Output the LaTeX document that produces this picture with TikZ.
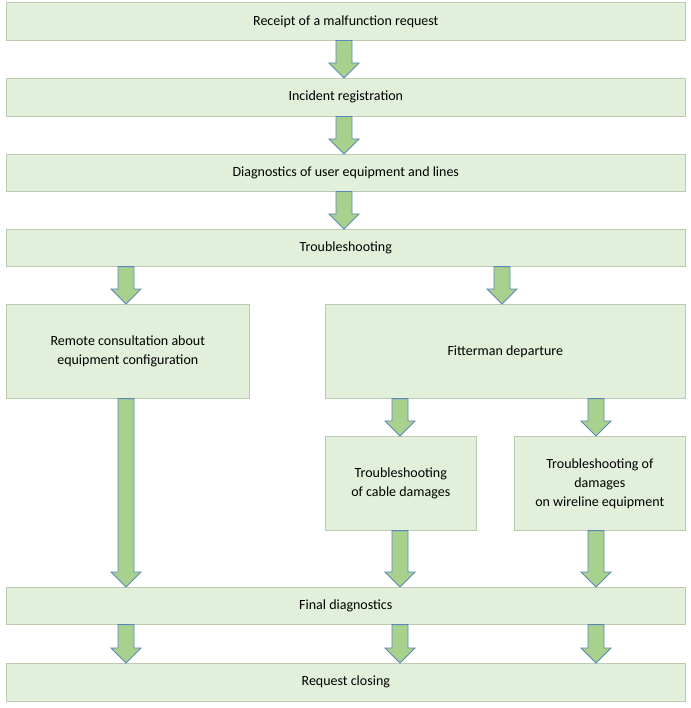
\documentclass[tikz,border=0pt]{standalone}
\usepackage{fontspec}
\setmainfont{Carlito}
\usetikzlibrary{calc}
\definecolor{boxfill}{HTML}{E2EFDA}
\definecolor{boxline}{HTML}{BCCAB2}
\definecolor{arrfill}{HTML}{A9D18E}
\definecolor{arrline}{HTML}{5B86B8}
\tikzset{
  stage/.style={rectangle, draw=boxline, fill=boxfill, line width=0.6pt, inner sep=2pt,
    align=center, font=\fontsize{14}{19}\selectfont, anchor=north west},
  blockarr/.style={draw=arrline, fill=arrfill, line width=0.8pt, line join=miter}
}
% block arrow at column x from one node to the next
\newcommand{\flowarrow}[3]{%
  \path let \p1=(#1.south), \p2=(#2.north) in
    [blockarr] (#3-8,\y1) -- (#3+8,\y1) -- (#3+8,\y2+15) -- (#3+15,\y2+15)
    -- (#3,\y2) -- (#3-15,\y2+15) -- (#3-8,\y2+15) -- cycle;}
\begin{document}
\begin{tikzpicture}[x=1pt,y=-1pt]
  \useasboundingbox (0,0) rectangle (690,708);
  % rows
  \node[stage, minimum width=679pt, minimum height=38pt] (receipt) at (6,2) {Receipt of a malfunction request};
  \node[stage, minimum width=679pt, minimum height=38pt] (incident) at (6,78) {Incident registration};
  \node[stage, minimum width=679pt, minimum height=37pt] (diag) at (6,154) {Diagnostics of user equipment and lines};
  \node[stage, minimum width=679pt, minimum height=37pt] (trouble) at (6,229) {Troubleshooting};
  \node[stage, minimum width=243pt, minimum height=94pt] (remote) at (6,304) {Remote consultation about\\equipment configuration};
  \node[stage, minimum width=360pt, minimum height=94pt] (fitter) at (325,304) {Fitterman departure};
  \node[stage, minimum width=151pt, minimum height=94pt] (cable) at (325,436) {Troubleshooting\\of cable damages};
  \node[stage, minimum width=171pt, minimum height=94pt] (wire) at (514,436) {Troubleshooting of\\damages\\on wireline equipment};
  \node[stage, minimum width=679pt, minimum height=37pt] (final) at (6,587) {Final diagnostics};
  \node[stage, minimum width=679pt, minimum height=38pt] (closing) at (6,663) {Request closing};
  % arrows
  \flowarrow{receipt}{incident}{344}
  \flowarrow{incident}{diag}{344}
  \flowarrow{diag}{trouble}{344}
  \flowarrow{trouble}{remote}{126}
  \flowarrow{trouble}{fitter}{502}
  \flowarrow{fitter}{cable}{400}
  \flowarrow{fitter}{wire}{596}
  \flowarrow{remote}{final}{126}
  \flowarrow{cable}{final}{400}
  \flowarrow{wire}{final}{596}
  \foreach \c in {126,400,596} {\flowarrow{final}{closing}{\c}}
\end{tikzpicture}
\end{document}
